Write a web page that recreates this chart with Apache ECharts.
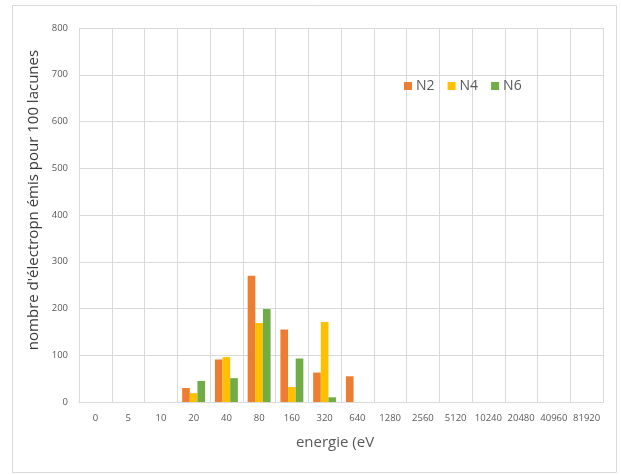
<!DOCTYPE html>
<html>
<head>
<meta charset="utf-8">
<script src="https://cdn.jsdelivr.net/npm/echarts@6/dist/echarts.min.js"></script>
<style>html,body{margin:0;padding:0;background:#fff}#c{width:621px;height:475px}</style>
</head>
<body>
<div id="c"></div>
<script>
const categories = ['0','5','10','20','40','80','160','320','640','1280','2560','5120','10240','20480','40960','81920'];
const seriesNames = ['N2','N4','N6'];
const n2 = [0,0,0,30,91,270,155,63,55,0,0,0,0,0,0,0];
const n4 = [0,0,0,19,96,169,32,171,0,0,0,0,0,0,0,0];
const n6 = [0,0,0,45,51,199,93,10,0,0,0,0,0,0,0,0];
const colors = ['#ED7D31','#FFC000','#70AD47'];
const yTitle = "nombre d'électropn émis pour 100 lacunes";
const xTitle = 'energie (eV';

const font = 'Open Sans';
const chart = echarts.init(document.getElementById('c'), null, {renderer:'canvas'});
const values = [n2, n4, n6];
chart.setOption({
  animation: false,
  textStyle: {fontFamily: font},
  graphic: [{
    type: 'rect', shape: {x: 12.5, y: 5.5, width: 604, height: 467},
    style: {fill: null, stroke: '#d9d9d9', lineWidth: 1}, silent: true
  }],
  legend: {
    data: seriesNames, left: 399, top: 74, itemWidth: 8, itemHeight: 8, itemGap: 13,
    icon: 'rect',
    textStyle: {fontFamily: font, fontSize: 14, color: '#595959', padding: [0,0,0,-1]}
  },
  grid: {left: 79, right: 18, top: 28, bottom: 73, containLabel: false},
  xAxis: {
    type: 'category', data: categories,
    name: xTitle, nameLocation: 'middle', nameGap: 33,
    nameTextStyle: {fontFamily: font, fontSize: 15, color: '#595959', padding: [0,12,0,0]},
    axisLine: {lineStyle: {color: '#d9d9d9'}},
    axisTick: {show: false},
    axisLabel: {fontFamily: font, fontSize: 9.5, color: '#595959', interval: 0, margin: 11},
    splitLine: {show: true, interval: 0, lineStyle: {color: '#d9d9d9'}}
  },
  yAxis: {
    type: 'value', min: 0, max: 800, interval: 100,
    name: yTitle, nameLocation: 'middle', nameGap: 34, nameRotate: 90,
    nameTextStyle: {fontFamily: font, fontSize: 15, color: '#3a3a3a', padding: [0,0,0,30]},
    axisLine: {show: false}, axisTick: {show: false},
    axisLabel: {fontFamily: font, fontSize: 9.5, color: '#595959', margin: 11},
    splitLine: {lineStyle: {color: '#d9d9d9'}}
  },
  series: seriesNames.map((n, i) => ({
    name: n, type: 'bar', data: values[i],
    barGap: '0%', barCategoryGap: '30%',
    itemStyle: {color: colors[i]}
  }))
});
</script>
</body>
</html>
